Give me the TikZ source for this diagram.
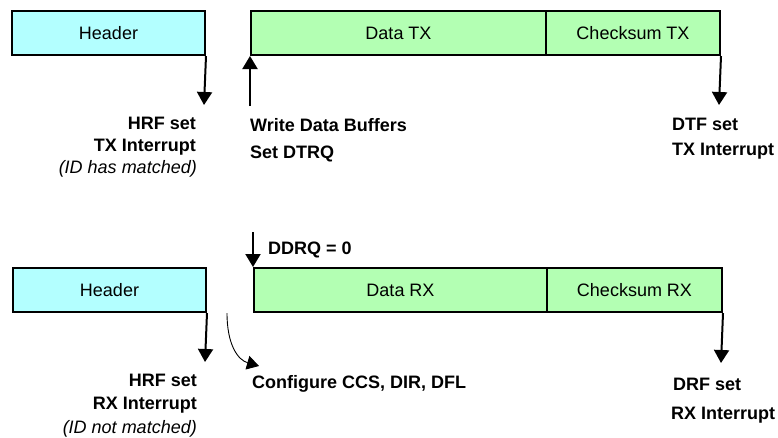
\documentclass[tikz,border=0pt]{standalone}
\usepackage{fontspec}
\setmainfont{Liberation Sans}
\usetikzlibrary{arrows.meta}
\definecolor{hdrfill}{RGB}{179,255,255}
\definecolor{datfill}{RGB}{179,255,179}
\begin{document}
\begin{tikzpicture}[x=1pt,y=-1pt,
  every node/.style={font=\fontsize{18}{21}\selectfont},
  field/.style={draw=black,line width=2pt,minimum height=44pt,inner sep=0pt,anchor=north west},
  hdrbox/.style={field,fill=hdrfill},
  datbox/.style={field,fill=datfill},
  evt/.style={-{Triangle[width=15pt,length=13pt]},line width=2pt},
  thinevt/.style={-{Triangle[width=14pt,length=12pt]},line width=0.9pt},
  lbl/.style={inner sep=0pt,font=\fontsize{18}{21}\selectfont\bfseries},
  note/.style={inner sep=0pt,font=\fontsize{18}{21}\selectfont\itshape}]
\useasboundingbox (0,0) rectangle (778,437);
% ---------- TX row ----------
\node[hdrbox,minimum width=193pt] (htx) at (11,10) {Header};
\node[datbox,minimum width=295pt] (dtx) at (250,10) {Data TX};
\node[datbox,minimum width=174pt] (ctx) at (545,10) {Checksum TX};
\coordinate (htxend) at (204,105);
\coordinate (wdbstart) at (250,106);
\coordinate (ctxend) at (719,105);
\draw[evt] (htx.south east) -- (htxend);
\draw[evt] (wdbstart) -- (dtx.south west);
\draw[evt] (ctx.south east) -- (ctxend);
\node[lbl,anchor=base east] (hrf1) at (196,129.5) {HRF set};
\node[lbl,anchor=base east] (txi1) at (196,151.5) {TX Interrupt};
\node[note,anchor=base east] (idm) at (197,173.5) {(ID has matched)};
\node[lbl,anchor=base west] (wdb) at (250,131.5) {Write Data Buffers};
\node[lbl,anchor=base west] (sdt) at (250,158) {Set DTRQ};
\node[lbl,anchor=base west] (dtf) at (672,130.5) {DTF set};
\node[lbl,anchor=base west] (txi2) at (672,155) {TX Interrupt};
% ---------- RX row ----------
\node[hdrbox,minimum width=193pt] (hrx) at (12,267) {Header};
\node[datbox,minimum width=293pt] (drx) at (253,267) {Data RX};
\node[datbox,minimum width=175pt] (crx) at (546,267) {Checksum RX};
\coordinate (ddrqstart) at (253,232);
\coordinate (hrxend) at (205,362);
\coordinate (cfgstart) at (227,313);
\coordinate (cfgend) at (259,366);
\coordinate (crxend) at (721,363);
\draw[evt] (ddrqstart) -- (drx.north west);
\draw[evt] (hrx.south east) -- (hrxend);
\draw[evt] (crx.south east) -- (crxend);
\draw[thinevt] (cfgstart) .. controls (227,345) and (238,360) .. (cfgend);
\node[lbl,anchor=base west] (ddrq) at (268,254.5) {DDRQ = 0};
\node[lbl,anchor=base east] (hrf2) at (197,386.5) {HRF set};
\node[lbl,anchor=base east] (rxi1) at (197,409.5) {RX Interrupt};
\node[note,anchor=base east] (idn) at (197,433) {(ID not matched)};
\node[lbl,anchor=base west] (cfg) at (252,388) {Configure CCS, DIR, DFL};
\node[lbl,anchor=base west] (drf) at (673,390.5) {DRF set};
\node[lbl,anchor=base west] (rxi2) at (671,419) {RX Interrupt};
\end{tikzpicture}
\end{document}
